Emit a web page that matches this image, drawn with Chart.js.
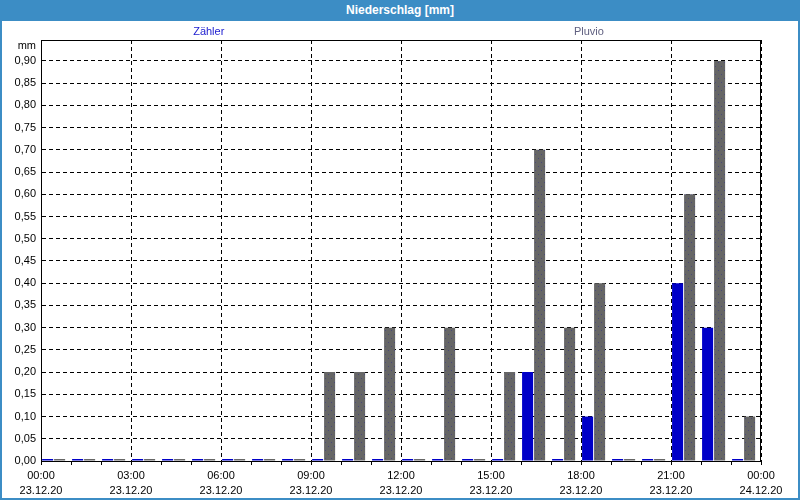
<!DOCTYPE html>
<html>
<head>
<meta charset="utf-8">
<script src="https://cdn.jsdelivr.net/npm/chart.js@4"></script>
<style>
  html, body { margin: 0; padding: 0; background: #fff; }
  #frame {
    position: absolute; left: 0; top: 0; width: 800px; height: 500px;
    box-sizing: border-box; border: 2px solid #3c8dc5; border-top: 0;
  }
  #title {
    height: 21px; background: #3c8dc5; color: #fff; margin: 0 -2px;
    font: bold 12px "Liberation Sans", Arial, sans-serif;
    text-align: center; line-height: 21px;
  }
  #wrap { position: relative; width: 796px; height: 477px; }
</style>
</head>
<body>
<div id="frame">
  <div id="title">Niederschlag [mm]</div>
  <div id="wrap"><canvas id="myChart"></canvas></div>
</div>
<script>
// hourly sums, 23.12.20 00:00 .. 23:00
const hours = [0, 1, 2, 3, 4, 5, 6, 7, 8, 9, 10, 11, 12, 13, 14, 15, 16, 17, 18, 19, 20, 21, 22, 23];
const zaehler = [0, 0, 0, 0, 0, 0, 0, 0, 0, 0, 0, 0, 0, 0, 0, 0, 0.2, 0, 0.1, 0, 0, 0.4, 0.3, 0];
const pluvio = [0, 0, 0, 0, 0, 0, 0, 0, 0, 0.2, 0.2, 0.3, 0, 0.3, 0, 0.2, 0.7, 0.3, 0.4, 0, 0, 0.6, 0.9, 0.1];

const tickTimes = ['00:00', '03:00', '06:00', '09:00', '12:00', '15:00', '18:00', '21:00', '00:00'];
const tickDates = ['23.12.20', '23.12.20', '23.12.20', '23.12.20', '23.12.20', '23.12.20', '23.12.20', '23.12.20', '24.12.20'];
const yTicks = [0, 0.05, 0.1, 0.15, 0.2, 0.25, 0.3, 0.35, 0.4, 0.45, 0.5, 0.55, 0.6, 0.65, 0.7, 0.75, 0.8, 0.85, 0.9];

Chart.defaults.font.family = '"Liberation Sans", Arial, sans-serif';
Chart.defaults.font.size = 11;
Chart.defaults.color = '#000';

// dotted grey fill like the original
const pc = document.createElement('canvas');
pc.width = 6; pc.height = 8;
const pctx = pc.getContext('2d');
pctx.fillStyle = '#666666';
pctx.fillRect(0, 0, 6, 8);
pctx.fillStyle = '#4a4a78';
pctx.fillRect(2, 1, 1, 1);
pctx.fillRect(5, 5, 1, 1);
const greyPattern = pctx.createPattern(pc, 'repeat');

const frameLabels = {
    id: 'frameLabels',
    afterDraw(chart) {
        const {ctx, chartArea: a} = chart;
        ctx.save();
        ctx.strokeStyle = '#000';
        ctx.lineWidth = 1;
        ctx.setLineDash([]);
        ctx.strokeRect(a.left + 0.5, a.top + 0.5, a.right - a.left - 1, a.bottom - a.top);
        ctx.font = '11px "Liberation Sans", Arial, sans-serif';
        ctx.textBaseline = 'middle';
        ctx.textAlign = 'center';
        const w = a.right - a.left;
        ctx.fillStyle = '#2020d0';
        ctx.fillText('Zähler', a.left + w * 0.233, 11);
        ctx.fillStyle = '#606080';
        ctx.fillText('Pluvio', a.left + w * 0.761, 11);
        ctx.fillStyle = '#000';
        ctx.textAlign = 'right';
        ctx.fillText('mm', a.left - 5, 25);
        ctx.restore();
    }
};

const ctx = document.getElementById('myChart');

new Chart(ctx, {
    type: 'bar',
    data: {
        datasets: [{
            label: 'Zähler',
            data: hours.map((h, i) => ({x: h, y: zaehler[i]})),
            backgroundColor: '#0000c8',
            xAxisID: 'xb',
            minBarLength: 2
        }, {
            label: 'Pluvio',
            data: hours.map((h, i) => ({x: h, y: pluvio[i]})),
            backgroundColor: greyPattern,
            xAxisID: 'xb',
            minBarLength: 2
        }]
    },
    options: {
        responsive: true,
        maintainAspectRatio: false,
        animation: false,
        categoryPercentage: 0.8,
        barPercentage: 0.92,
        layout: { padding: { top: 19, right: 37, left: 0, bottom: 0 } },
        plugins: {
            legend: { display: false },
            tooltip: { enabled: false }
        },
        scales: {
            xb: {
                type: 'linear',
                display: false,
                offset: false,
                min: -0.42,
                max: 23.58
            },
            xt: {
                type: 'linear',
                position: 'bottom',
                offset: false,
                min: 0,
                max: 24,
                afterBuildTicks: scale => {
                    scale.ticks = [...hours, 24].map(v => ({value: v}));
                },
                afterFit: scale => { scale.height = 37; },
                grid: {
                    color: c => (c.tick && c.tick.value % 3 === 0) ? '#000' : 'rgba(0,0,0,0)',
                    tickColor: '#000',
                    tickLength: 4,
                    offset: false
                },
                border: { color: '#000', dash: [4, 3] },
                ticks: {
                    autoSkip: false,
                    maxRotation: 0,
                    minRotation: 0,
                    padding: 4,
                    font: { lineHeight: 1.35 },
                    callback: v => v % 3 === 0 ? [tickTimes[v / 3], tickDates[v / 3]] : ''
                }
            },
            y: {
                min: 0,
                max: 0.947,
                afterBuildTicks: scale => {
                    scale.ticks = yTicks.map(v => ({value: v}));
                },
                afterFit: scale => { scale.width = 39; },
                grid: { color: '#000', drawTicks: false, tickLength: 0 },
                border: { color: '#000', dash: [4, 3] },
                ticks: {
                    padding: 5,
                    callback: v => v.toFixed(2).replace('.', ',')
                }
            }
        }
    },
    plugins: [frameLabels]
});
</script>
</body>
</html>
